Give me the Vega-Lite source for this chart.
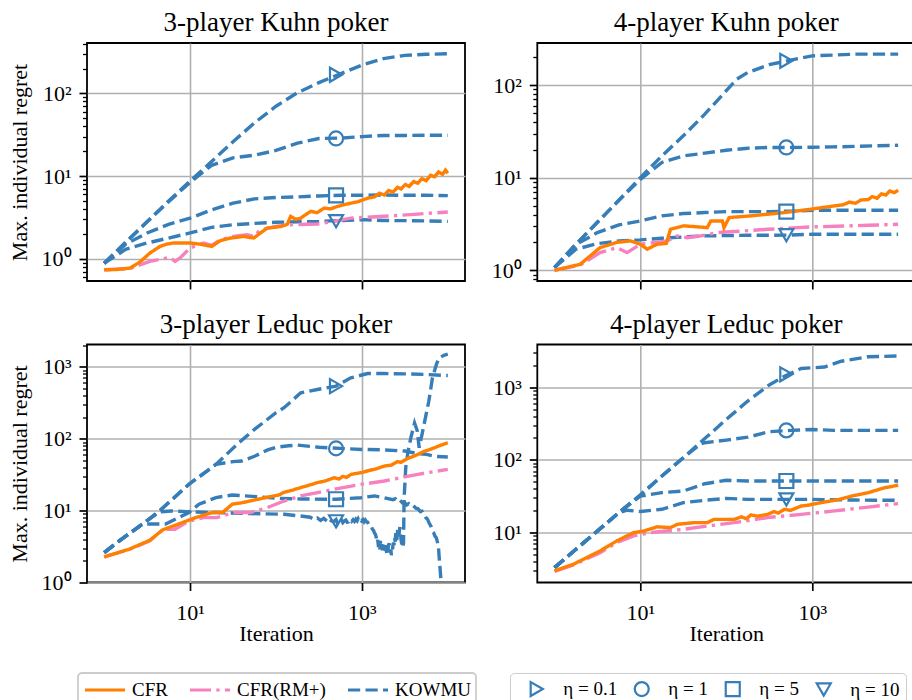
{
"$schema":"https://vega.github.io/schema/vega-lite/v6.json",
"background":"white",
"padding":{"left":7,"top":8,"right":0,"bottom":0},
"config":{
 "font":"Liberation Serif",
 "view":{"stroke":"black","strokeWidth":1.8},
 "axis":{"domain":false,"labelFont":"Liberation Serif","titleFont":"Liberation Serif","labelFontSize":22,"titleFontSize":22,"titleFontWeight":"normal","labelColor":"black","titleColor":"black","tickColor":"black","gridColor":"#b0b0b0","gridWidth":1.6,"labelOverlap":false,"labelBound":false,"labelFlush":false},
 "title":{"font":"Liberation Serif","fontSize":27,"fontWeight":"normal","color":"black","offset":6,"frame":"group"}
},
"datasets":{
"k3":[
{"alg":"KOWMU","eta":"η = 0.1","x":1,"y":0.88},{"alg":"KOWMU","eta":"η = 0.1","x":1.78,"y":1.58},{"alg":"KOWMU","eta":"η = 0.1","x":3.16,"y":2.8},{"alg":"KOWMU","eta":"η = 0.1","x":5.62,"y":5},{"alg":"KOWMU","eta":"η = 0.1","x":10,"y":8.7},{"alg":"KOWMU","eta":"η = 0.1","x":17.8,"y":15},{"alg":"KOWMU","eta":"η = 0.1","x":31.6,"y":26},{"alg":"KOWMU","eta":"η = 0.1","x":56.2,"y":44},{"alg":"KOWMU","eta":"η = 0.1","x":100,"y":70},{"alg":"KOWMU","eta":"η = 0.1","x":178,"y":102},{"alg":"KOWMU","eta":"η = 0.1","x":316,"y":135},{"alg":"KOWMU","eta":"η = 0.1","x":562,"y":173},{"alg":"KOWMU","eta":"η = 0.1","x":1000,"y":220},{"alg":"KOWMU","eta":"η = 0.1","x":1780,"y":264},{"alg":"KOWMU","eta":"η = 0.1","x":3160,"y":288},{"alg":"KOWMU","eta":"η = 0.1","x":5620,"y":297},{"alg":"KOWMU","eta":"η = 0.1","x":10000,"y":302},
{"alg":"KOWMU","eta":"η = 1","x":1,"y":0.88},{"alg":"KOWMU","eta":"η = 1","x":1.78,"y":1.58},{"alg":"KOWMU","eta":"η = 1","x":3.16,"y":2.8},{"alg":"KOWMU","eta":"η = 1","x":5.62,"y":4.9},{"alg":"KOWMU","eta":"η = 1","x":10,"y":8.4},{"alg":"KOWMU","eta":"η = 1","x":17.8,"y":13.5},{"alg":"KOWMU","eta":"η = 1","x":31.6,"y":16.6},{"alg":"KOWMU","eta":"η = 1","x":56.2,"y":17.9},{"alg":"KOWMU","eta":"η = 1","x":100,"y":20.4},{"alg":"KOWMU","eta":"η = 1","x":178,"y":25},{"alg":"KOWMU","eta":"η = 1","x":316,"y":28.5},{"alg":"KOWMU","eta":"η = 1","x":562,"y":28.8},{"alg":"KOWMU","eta":"η = 1","x":1000,"y":30},{"alg":"KOWMU","eta":"η = 1","x":1780,"y":31},{"alg":"KOWMU","eta":"η = 1","x":3160,"y":31},{"alg":"KOWMU","eta":"η = 1","x":5620,"y":31.2},{"alg":"KOWMU","eta":"η = 1","x":10000,"y":31.2},
{"alg":"KOWMU","eta":"η = 5","x":1,"y":0.88},{"alg":"KOWMU","eta":"η = 5","x":1.78,"y":1.5},{"alg":"KOWMU","eta":"η = 5","x":3.16,"y":2.05},{"alg":"KOWMU","eta":"η = 5","x":5.62,"y":2.6},{"alg":"KOWMU","eta":"η = 5","x":10,"y":3.1},{"alg":"KOWMU","eta":"η = 5","x":17.8,"y":3.9},{"alg":"KOWMU","eta":"η = 5","x":31.6,"y":4.7},{"alg":"KOWMU","eta":"η = 5","x":56.2,"y":5.3},{"alg":"KOWMU","eta":"η = 5","x":100,"y":5.5},{"alg":"KOWMU","eta":"η = 5","x":178,"y":5.6},{"alg":"KOWMU","eta":"η = 5","x":316,"y":5.75},{"alg":"KOWMU","eta":"η = 5","x":562,"y":5.85},{"alg":"KOWMU","eta":"η = 5","x":1000,"y":5.85},{"alg":"KOWMU","eta":"η = 5","x":1780,"y":5.9},{"alg":"KOWMU","eta":"η = 5","x":3160,"y":5.85},{"alg":"KOWMU","eta":"η = 5","x":5620,"y":5.85},{"alg":"KOWMU","eta":"η = 5","x":10000,"y":5.8},
{"alg":"KOWMU","eta":"η = 10","x":1,"y":0.88},{"alg":"KOWMU","eta":"η = 10","x":1.78,"y":1.3},{"alg":"KOWMU","eta":"η = 10","x":3.16,"y":1.55},{"alg":"KOWMU","eta":"η = 10","x":5.62,"y":1.78},{"alg":"KOWMU","eta":"η = 10","x":10,"y":2.05},{"alg":"KOWMU","eta":"η = 10","x":17.8,"y":2.4},{"alg":"KOWMU","eta":"η = 10","x":31.6,"y":2.58},{"alg":"KOWMU","eta":"η = 10","x":56.2,"y":2.68},{"alg":"KOWMU","eta":"η = 10","x":100,"y":2.76},{"alg":"KOWMU","eta":"η = 10","x":178,"y":2.8},{"alg":"KOWMU","eta":"η = 10","x":316,"y":2.83},{"alg":"KOWMU","eta":"η = 10","x":562,"y":2.9},{"alg":"KOWMU","eta":"η = 10","x":1000,"y":2.97},{"alg":"KOWMU","eta":"η = 10","x":1780,"y":2.9},{"alg":"KOWMU","eta":"η = 10","x":3160,"y":2.89},{"alg":"KOWMU","eta":"η = 10","x":5620,"y":2.87},{"alg":"KOWMU","eta":"η = 10","x":10000,"y":2.83},
{"alg":"CFR(RM+)","x":1,"y":0.735},{"alg":"CFR(RM+)","x":1.99,"y":0.76},{"alg":"CFR(RM+)","x":3.4,"y":0.93},{"alg":"CFR(RM+)","x":5.84,"y":1.04},{"alg":"CFR(RM+)","x":6.68,"y":0.93},{"alg":"CFR(RM+)","x":7.64,"y":1.02},{"alg":"CFR(RM+)","x":10,"y":1.35},{"alg":"CFR(RM+)","x":14.3,"y":1.55},{"alg":"CFR(RM+)","x":17.9,"y":1.45},{"alg":"CFR(RM+)","x":22.4,"y":1.7},{"alg":"CFR(RM+)","x":32.1,"y":1.86},{"alg":"CFR(RM+)","x":46,"y":1.95},{"alg":"CFR(RM+)","x":55,"y":1.86},{"alg":"CFR(RM+)","x":66,"y":2.24},{"alg":"CFR(RM+)","x":103,"y":2.47},{"alg":"CFR(RM+)","x":148,"y":2.58},{"alg":"CFR(RM+)","x":303,"y":2.63},{"alg":"CFR(RM+)","x":475,"y":2.83},{"alg":"CFR(RM+)","x":743,"y":3.1},{"alg":"CFR(RM+)","x":1825,"y":3.26},{"alg":"CFR(RM+)","x":4480,"y":3.47},{"alg":"CFR(RM+)","x":10000,"y":3.68},
{"alg":"CFR","x":1,"y":0.735},{"alg":"CFR","x":1.39,"y":0.74},{"alg":"CFR","x":1.99,"y":0.77},{"alg":"CFR","x":2.6,"y":0.91},{"alg":"CFR","x":3.4,"y":1.17},{"alg":"CFR","x":4.46,"y":1.41},{"alg":"CFR","x":5.33,"y":1.5},{"alg":"CFR","x":6.4,"y":1.55},{"alg":"CFR","x":10,"y":1.55},{"alg":"CFR","x":13.1,"y":1.5},{"alg":"CFR","x":17.9,"y":1.41},{"alg":"CFR","x":22.4,"y":1.65},{"alg":"CFR","x":29.4,"y":1.78},{"alg":"CFR","x":42,"y":1.86},{"alg":"CFR","x":55,"y":1.78},{"alg":"CFR","x":66,"y":2.05},{"alg":"CFR","x":79,"y":2.35},{"alg":"CFR","x":113,"y":2.45},{"alg":"CFR","x":135,"y":2.6},{"alg":"CFR","x":148,"y":3.26},{"alg":"CFR","x":170,"y":3.0},{"alg":"CFR","x":194,"y":3.1},{"alg":"CFR","x":220,"y":3.4},{"alg":"CFR","x":254,"y":3.75},{"alg":"CFR","x":300,"y":3.6},{"alg":"CFR","x":363,"y":4.1},{"alg":"CFR","x":430,"y":4.0},{"alg":"CFR","x":520,"y":4.3},{"alg":"CFR","x":620,"y":4.5},{"alg":"CFR","x":743,"y":4.7},{"alg":"CFR","x":900,"y":4.9},{"alg":"CFR","x":1165,"y":5.4},{"alg":"CFR","x":1400,"y":5.6},{"alg":"CFR","x":1600,"y":6.2},{"alg":"CFR","x":1825,"y":5.9},{"alg":"CFR","x":2050,"y":6.7},{"alg":"CFR","x":2300,"y":6.4},{"alg":"CFR","x":2600,"y":7.3},{"alg":"CFR","x":2860,"y":7.0},{"alg":"CFR","x":3200,"y":7.9},{"alg":"CFR","x":3550,"y":7.5},{"alg":"CFR","x":4000,"y":8.6},{"alg":"CFR","x":4480,"y":8.2},{"alg":"CFR","x":5000,"y":9.3},{"alg":"CFR","x":5600,"y":8.8},{"alg":"CFR","x":6300,"y":10.2},{"alg":"CFR","x":7020,"y":9.8},{"alg":"CFR","x":7800,"y":11.2},{"alg":"CFR","x":8700,"y":10.5},{"alg":"CFR","x":9400,"y":11.8},{"alg":"CFR","x":10000,"y":10.8}
],
"k3m":[{"eta":"η = 0.1","x":500,"y":168},{"eta":"η = 1","x":500,"y":28.5},{"eta":"η = 5","x":500,"y":5.85},{"eta":"η = 10","x":500,"y":2.85}],
"k4":[
{"alg":"KOWMU","eta":"η = 0.1","x":1,"y":1.07},{"alg":"KOWMU","eta":"η = 0.1","x":1.78,"y":1.91},{"alg":"KOWMU","eta":"η = 0.1","x":3.16,"y":3.3},{"alg":"KOWMU","eta":"η = 0.1","x":5.62,"y":5.7},{"alg":"KOWMU","eta":"η = 0.1","x":10,"y":10},{"alg":"KOWMU","eta":"η = 0.1","x":17.8,"y":17.2},{"alg":"KOWMU","eta":"η = 0.1","x":31.6,"y":28.3},{"alg":"KOWMU","eta":"η = 0.1","x":56.2,"y":48.5},{"alg":"KOWMU","eta":"η = 0.1","x":100,"y":87},{"alg":"KOWMU","eta":"η = 0.1","x":133,"y":116},{"alg":"KOWMU","eta":"η = 0.1","x":178,"y":137},{"alg":"KOWMU","eta":"η = 0.1","x":316,"y":166},{"alg":"KOWMU","eta":"η = 0.1","x":562,"y":186},{"alg":"KOWMU","eta":"η = 0.1","x":1000,"y":207},{"alg":"KOWMU","eta":"η = 0.1","x":1780,"y":211},{"alg":"KOWMU","eta":"η = 0.1","x":3160,"y":216},{"alg":"KOWMU","eta":"η = 0.1","x":5620,"y":216},{"alg":"KOWMU","eta":"η = 0.1","x":10000,"y":216},
{"alg":"KOWMU","eta":"η = 1","x":1,"y":1.07},{"alg":"KOWMU","eta":"η = 1","x":1.78,"y":1.91},{"alg":"KOWMU","eta":"η = 1","x":3.16,"y":3.3},{"alg":"KOWMU","eta":"η = 1","x":5.62,"y":5.7},{"alg":"KOWMU","eta":"η = 1","x":10,"y":9.6},{"alg":"KOWMU","eta":"η = 1","x":17.8,"y":14.6},{"alg":"KOWMU","eta":"η = 1","x":31.6,"y":17.2},{"alg":"KOWMU","eta":"η = 1","x":56.2,"y":18.4},{"alg":"KOWMU","eta":"η = 1","x":100,"y":19.8},{"alg":"KOWMU","eta":"η = 1","x":178,"y":20.8},{"alg":"KOWMU","eta":"η = 1","x":316,"y":21.2},{"alg":"KOWMU","eta":"η = 1","x":562,"y":21.2},{"alg":"KOWMU","eta":"η = 1","x":1000,"y":21.3},{"alg":"KOWMU","eta":"η = 1","x":1780,"y":21.5},{"alg":"KOWMU","eta":"η = 1","x":3160,"y":21.8},{"alg":"KOWMU","eta":"η = 1","x":5620,"y":22.1},{"alg":"KOWMU","eta":"η = 1","x":10000,"y":22.4},
{"alg":"KOWMU","eta":"η = 5","x":1,"y":1.07},{"alg":"KOWMU","eta":"η = 5","x":1.78,"y":1.9},{"alg":"KOWMU","eta":"η = 5","x":3.16,"y":2.55},{"alg":"KOWMU","eta":"η = 5","x":5.62,"y":3.09},{"alg":"KOWMU","eta":"η = 5","x":10,"y":3.41},{"alg":"KOWMU","eta":"η = 5","x":17.8,"y":3.87},{"alg":"KOWMU","eta":"η = 5","x":31.6,"y":4.1},{"alg":"KOWMU","eta":"η = 5","x":56.2,"y":4.2},{"alg":"KOWMU","eta":"η = 5","x":100,"y":4.3},{"alg":"KOWMU","eta":"η = 5","x":178,"y":4.3},{"alg":"KOWMU","eta":"η = 5","x":316,"y":4.3},{"alg":"KOWMU","eta":"η = 5","x":562,"y":4.35},{"alg":"KOWMU","eta":"η = 5","x":1000,"y":4.45},{"alg":"KOWMU","eta":"η = 5","x":1780,"y":4.45},{"alg":"KOWMU","eta":"η = 5","x":3160,"y":4.45},{"alg":"KOWMU","eta":"η = 5","x":5620,"y":4.45},{"alg":"KOWMU","eta":"η = 5","x":10000,"y":4.45},
{"alg":"KOWMU","eta":"η = 10","x":1,"y":1.07},{"alg":"KOWMU","eta":"η = 10","x":1.78,"y":1.69},{"alg":"KOWMU","eta":"η = 10","x":3.16,"y":1.94},{"alg":"KOWMU","eta":"η = 10","x":5.62,"y":2.07},{"alg":"KOWMU","eta":"η = 10","x":10,"y":2.13},{"alg":"KOWMU","eta":"η = 10","x":17.8,"y":2.22},{"alg":"KOWMU","eta":"η = 10","x":31.6,"y":2.29},{"alg":"KOWMU","eta":"η = 10","x":56.2,"y":2.35},{"alg":"KOWMU","eta":"η = 10","x":100,"y":2.37},{"alg":"KOWMU","eta":"η = 10","x":178,"y":2.39},{"alg":"KOWMU","eta":"η = 10","x":316,"y":2.39},{"alg":"KOWMU","eta":"η = 10","x":562,"y":2.4},{"alg":"KOWMU","eta":"η = 10","x":1000,"y":2.45},{"alg":"KOWMU","eta":"η = 10","x":1780,"y":2.45},{"alg":"KOWMU","eta":"η = 10","x":3160,"y":2.45},{"alg":"KOWMU","eta":"η = 10","x":5620,"y":2.45},{"alg":"KOWMU","eta":"η = 10","x":10000,"y":2.45},
{"alg":"CFR(RM+)","x":1,"y":1.0},{"alg":"CFR(RM+)","x":1.99,"y":1.14},{"alg":"CFR(RM+)","x":3.4,"y":1.55},{"alg":"CFR(RM+)","x":5.33,"y":1.76},{"alg":"CFR(RM+)","x":7,"y":1.55},{"alg":"CFR(RM+)","x":10,"y":1.91},{"alg":"CFR(RM+)","x":14.3,"y":1.99},{"alg":"CFR(RM+)","x":20.5,"y":2.08},{"alg":"CFR(RM+)","x":26.9,"y":2.35},{"alg":"CFR(RM+)","x":35,"y":2.25},{"alg":"CFR(RM+)","x":50,"y":2.35},{"alg":"CFR(RM+)","x":79,"y":2.55},{"alg":"CFR(RM+)","x":124,"y":2.62},{"alg":"CFR(RM+)","x":303,"y":2.77},{"alg":"CFR(RM+)","x":973,"y":2.94},{"alg":"CFR(RM+)","x":4480,"y":3.06},{"alg":"CFR(RM+)","x":10000,"y":3.14},
{"alg":"CFR","x":1,"y":1.0},{"alg":"CFR","x":1.99,"y":1.16},{"alg":"CFR","x":3.4,"y":1.76},{"alg":"CFR","x":5.33,"y":2.0},{"alg":"CFR","x":7.64,"y":2.08},{"alg":"CFR","x":10,"y":1.91},{"alg":"CFR","x":12,"y":1.69},{"alg":"CFR","x":15.6,"y":1.91},{"alg":"CFR","x":20,"y":1.95},{"alg":"CFR","x":22.4,"y":2.77},{"alg":"CFR","x":32.1,"y":3.02},{"alg":"CFR","x":60,"y":2.89},{"alg":"CFR","x":66,"y":3.41},{"alg":"CFR","x":90,"y":3.41},{"alg":"CFR","x":94,"y":2.89},{"alg":"CFR","x":108,"y":3.71},{"alg":"CFR","x":194,"y":3.87},{"alg":"CFR","x":475,"y":4.2},{"alg":"CFR","x":973,"y":4.57},{"alg":"CFR","x":1400,"y":4.8},{"alg":"CFR","x":1825,"y":4.96},{"alg":"CFR","x":2300,"y":5.1},{"alg":"CFR","x":2700,"y":5.45},{"alg":"CFR","x":3200,"y":5.3},{"alg":"CFR","x":3700,"y":5.75},{"alg":"CFR","x":4480,"y":5.8},{"alg":"CFR","x":5000,"y":6.25},{"alg":"CFR","x":5700,"y":6.0},{"alg":"CFR","x":6400,"y":6.7},{"alg":"CFR","x":7200,"y":6.5},{"alg":"CFR","x":8000,"y":7.2},{"alg":"CFR","x":9000,"y":6.9},{"alg":"CFR","x":10000,"y":7.3}
],
"k4m":[{"eta":"η = 0.1","x":500,"y":183},{"eta":"η = 1","x":500,"y":21.2},{"eta":"η = 5","x":500,"y":4.3},{"eta":"η = 10","x":500,"y":2.39}],
"l3":[
{"alg":"KOWMU","eta":"η = 0.1","x":1,"y":2.6},{"alg":"KOWMU","eta":"η = 0.1","x":1.5,"y":3.8},{"alg":"KOWMU","eta":"η = 0.1","x":2.8,"y":6.5},{"alg":"KOWMU","eta":"η = 0.1","x":4.4,"y":9.9},{"alg":"KOWMU","eta":"η = 0.1","x":9.7,"y":23.3},{"alg":"KOWMU","eta":"η = 0.1","x":20,"y":44},{"alg":"KOWMU","eta":"η = 0.1","x":37,"y":88},{"alg":"KOWMU","eta":"η = 0.1","x":56.2,"y":135},{"alg":"KOWMU","eta":"η = 0.1","x":100,"y":230},{"alg":"KOWMU","eta":"η = 0.1","x":124,"y":270},{"alg":"KOWMU","eta":"η = 0.1","x":194,"y":435},{"alg":"KOWMU","eta":"η = 0.1","x":303,"y":484},{"alg":"KOWMU","eta":"η = 0.1","x":500,"y":540},{"alg":"KOWMU","eta":"η = 0.1","x":743,"y":703},{"alg":"KOWMU","eta":"η = 0.1","x":1165,"y":807},{"alg":"KOWMU","eta":"η = 0.1","x":1780,"y":807},{"alg":"KOWMU","eta":"η = 0.1","x":3160,"y":800},{"alg":"KOWMU","eta":"η = 0.1","x":5620,"y":783},{"alg":"KOWMU","eta":"η = 0.1","x":10000,"y":758},
{"alg":"KOWMU","eta":"η = 1","x":1,"y":2.6},{"alg":"KOWMU","eta":"η = 1","x":1.5,"y":3.8},{"alg":"KOWMU","eta":"η = 1","x":2.8,"y":6.5},{"alg":"KOWMU","eta":"η = 1","x":4.4,"y":9.9},{"alg":"KOWMU","eta":"η = 1","x":9.7,"y":23.3},{"alg":"KOWMU","eta":"η = 1","x":20,"y":44},{"alg":"KOWMU","eta":"η = 1","x":25,"y":46},{"alg":"KOWMU","eta":"η = 1","x":31.6,"y":48},{"alg":"KOWMU","eta":"η = 1","x":40,"y":49},{"alg":"KOWMU","eta":"η = 1","x":56.2,"y":57},{"alg":"KOWMU","eta":"η = 1","x":80,"y":70},{"alg":"KOWMU","eta":"η = 1","x":100,"y":76},{"alg":"KOWMU","eta":"η = 1","x":140,"y":80},{"alg":"KOWMU","eta":"η = 1","x":178,"y":81.6},{"alg":"KOWMU","eta":"η = 1","x":316,"y":76},{"alg":"KOWMU","eta":"η = 1","x":562,"y":73.4},{"alg":"KOWMU","eta":"η = 1","x":1000,"y":71},{"alg":"KOWMU","eta":"η = 1","x":1780,"y":70},{"alg":"KOWMU","eta":"η = 1","x":3160,"y":67.5},{"alg":"KOWMU","eta":"η = 1","x":4480,"y":62},{"alg":"KOWMU","eta":"η = 1","x":5620,"y":60.6},{"alg":"KOWMU","eta":"η = 1","x":7000,"y":57},{"alg":"KOWMU","eta":"η = 1","x":10000,"y":55.6},
{"alg":"KOWMU","eta":"η = 5","x":1,"y":2.6},{"alg":"KOWMU","eta":"η = 5","x":1.5,"y":3.8},{"alg":"KOWMU","eta":"η = 5","x":2.8,"y":6.5},{"alg":"KOWMU","eta":"η = 5","x":5.2,"y":6.5},{"alg":"KOWMU","eta":"η = 5","x":9.7,"y":9.4},{"alg":"KOWMU","eta":"η = 5","x":12.7,"y":12.3},{"alg":"KOWMU","eta":"η = 5","x":20,"y":15.2},{"alg":"KOWMU","eta":"η = 5","x":31,"y":16.5},{"alg":"KOWMU","eta":"η = 5","x":48.5,"y":15.9},{"alg":"KOWMU","eta":"η = 5","x":108,"y":14.8},{"alg":"KOWMU","eta":"η = 5","x":200,"y":14.5},{"alg":"KOWMU","eta":"η = 5","x":500,"y":14.4},{"alg":"KOWMU","eta":"η = 5","x":973,"y":15.1},{"alg":"KOWMU","eta":"η = 5","x":1400,"y":16},{"alg":"KOWMU","eta":"η = 5","x":1825,"y":15.1},{"alg":"KOWMU","eta":"η = 5","x":2300,"y":14.2},{"alg":"KOWMU","eta":"η = 5","x":2450,"y":14.6},{"alg":"KOWMU","eta":"η = 5","x":2600,"y":13.4},{"alg":"KOWMU","eta":"η = 5","x":2780,"y":13.9},{"alg":"KOWMU","eta":"η = 5","x":2970,"y":12.8},{"alg":"KOWMU","eta":"η = 5","x":3130,"y":13.1},{"alg":"KOWMU","eta":"η = 5","x":3300,"y":12.0},{"alg":"KOWMU","eta":"η = 5","x":3500,"y":12.5},{"alg":"KOWMU","eta":"η = 5","x":3700,"y":11.6},{"alg":"KOWMU","eta":"η = 5","x":3950,"y":11.8},{"alg":"KOWMU","eta":"η = 5","x":4250,"y":10.8},{"alg":"KOWMU","eta":"η = 5","x":4500,"y":10.6},{"alg":"KOWMU","eta":"η = 5","x":4800,"y":9.7},{"alg":"KOWMU","eta":"η = 5","x":5000,"y":9.8},{"alg":"KOWMU","eta":"η = 5","x":5200,"y":9.0},{"alg":"KOWMU","eta":"η = 5","x":5400,"y":8.6},{"alg":"KOWMU","eta":"η = 5","x":5540,"y":8},{"alg":"KOWMU","eta":"η = 5","x":5800,"y":7.6},{"alg":"KOWMU","eta":"η = 5","x":6100,"y":6.6},{"alg":"KOWMU","eta":"η = 5","x":6350,"y":6.1},{"alg":"KOWMU","eta":"η = 5","x":6620,"y":5.1},{"alg":"KOWMU","eta":"η = 5","x":6850,"y":4.9},{"alg":"KOWMU","eta":"η = 5","x":7100,"y":4.4},{"alg":"KOWMU","eta":"η = 5","x":7350,"y":4.2},{"alg":"KOWMU","eta":"η = 5","x":7590,"y":3.6},{"alg":"KOWMU","eta":"η = 5","x":7800,"y":3.0},{"alg":"KOWMU","eta":"η = 5","x":7940,"y":2.2},{"alg":"KOWMU","eta":"η = 5","x":8150,"y":1.5},{"alg":"KOWMU","eta":"η = 5","x":8330,"y":1.05},{"alg":"KOWMU","eta":"η = 5","x":8700,"y":0.6},{"alg":"KOWMU","eta":"η = 5","x":9200,"y":0.4},{"alg":"KOWMU","eta":"η = 5","x":10000,"y":0.3},
{"alg":"KOWMU","eta":"η = 10","x":1,"y":2.6},{"alg":"KOWMU","eta":"η = 10","x":1.5,"y":3.8},{"alg":"KOWMU","eta":"η = 10","x":2.8,"y":6.5},{"alg":"KOWMU","eta":"η = 10","x":4.4,"y":9.6},{"alg":"KOWMU","eta":"η = 10","x":6,"y":9.9},{"alg":"KOWMU","eta":"η = 10","x":10,"y":9.6},{"alg":"KOWMU","eta":"η = 10","x":20,"y":9.4},{"alg":"KOWMU","eta":"η = 10","x":50,"y":9.1},{"alg":"KOWMU","eta":"η = 10","x":124,"y":8.9},{"alg":"KOWMU","eta":"η = 10","x":194,"y":8.4},{"alg":"KOWMU","eta":"η = 10","x":250,"y":8.1},{"alg":"KOWMU","eta":"η = 10","x":280,"y":7.5},{"alg":"KOWMU","eta":"η = 10","x":303,"y":7.9},{"alg":"KOWMU","eta":"η = 10","x":330,"y":7.3},{"alg":"KOWMU","eta":"η = 10","x":360,"y":7.8},{"alg":"KOWMU","eta":"η = 10","x":400,"y":7.0},{"alg":"KOWMU","eta":"η = 10","x":420,"y":7.6},{"alg":"KOWMU","eta":"η = 10","x":440,"y":7.2},{"alg":"KOWMU","eta":"η = 10","x":475,"y":7.1},{"alg":"KOWMU","eta":"η = 10","x":500,"y":7.5},{"alg":"KOWMU","eta":"η = 10","x":520,"y":6.7},{"alg":"KOWMU","eta":"η = 10","x":540,"y":7.4},{"alg":"KOWMU","eta":"η = 10","x":560,"y":6.9},{"alg":"KOWMU","eta":"η = 10","x":580,"y":7.3},{"alg":"KOWMU","eta":"η = 10","x":600,"y":6.8},{"alg":"KOWMU","eta":"η = 10","x":625,"y":7.2},{"alg":"KOWMU","eta":"η = 10","x":650,"y":7.4},{"alg":"KOWMU","eta":"η = 10","x":675,"y":6.9},{"alg":"KOWMU","eta":"η = 10","x":700,"y":7.0},{"alg":"KOWMU","eta":"η = 10","x":730,"y":7.6},{"alg":"KOWMU","eta":"η = 10","x":760,"y":7.1},{"alg":"KOWMU","eta":"η = 10","x":790,"y":7.5},{"alg":"KOWMU","eta":"η = 10","x":820,"y":7.1},{"alg":"KOWMU","eta":"η = 10","x":850,"y":7.6},{"alg":"KOWMU","eta":"η = 10","x":880,"y":7.2},{"alg":"KOWMU","eta":"η = 10","x":905,"y":7.7},{"alg":"KOWMU","eta":"η = 10","x":930,"y":7.2},{"alg":"KOWMU","eta":"η = 10","x":960,"y":7.6},{"alg":"KOWMU","eta":"η = 10","x":990,"y":7.2},{"alg":"KOWMU","eta":"η = 10","x":1025,"y":7.5},{"alg":"KOWMU","eta":"η = 10","x":1060,"y":7.0},{"alg":"KOWMU","eta":"η = 10","x":1095,"y":7.4},{"alg":"KOWMU","eta":"η = 10","x":1130,"y":7.0},{"alg":"KOWMU","eta":"η = 10","x":1165,"y":6.9},{"alg":"KOWMU","eta":"η = 10","x":1200,"y":6.4},{"alg":"KOWMU","eta":"η = 10","x":1230,"y":6.3},{"alg":"KOWMU","eta":"η = 10","x":1260,"y":5.9},{"alg":"KOWMU","eta":"η = 10","x":1295,"y":5.9},{"alg":"KOWMU","eta":"η = 10","x":1330,"y":5.5},{"alg":"KOWMU","eta":"η = 10","x":1365,"y":5.3},{"alg":"KOWMU","eta":"η = 10","x":1400,"y":4.9},{"alg":"KOWMU","eta":"η = 10","x":1435,"y":4.7},{"alg":"KOWMU","eta":"η = 10","x":1470,"y":4.2},{"alg":"KOWMU","eta":"η = 10","x":1500,"y":3.6},{"alg":"KOWMU","eta":"η = 10","x":1530,"y":3.9},{"alg":"KOWMU","eta":"η = 10","x":1560,"y":3.1},{"alg":"KOWMU","eta":"η = 10","x":1590,"y":3.5},{"alg":"KOWMU","eta":"η = 10","x":1615,"y":2.9},{"alg":"KOWMU","eta":"η = 10","x":1640,"y":3.8},{"alg":"KOWMU","eta":"η = 10","x":1670,"y":3.0},{"alg":"KOWMU","eta":"η = 10","x":1700,"y":3.4},{"alg":"KOWMU","eta":"η = 10","x":1730,"y":2.8},{"alg":"KOWMU","eta":"η = 10","x":1760,"y":3.5},{"alg":"KOWMU","eta":"η = 10","x":1790,"y":2.9},{"alg":"KOWMU","eta":"η = 10","x":1820,"y":3.2},{"alg":"KOWMU","eta":"η = 10","x":1850,"y":2.7},{"alg":"KOWMU","eta":"η = 10","x":1880,"y":3.3},{"alg":"KOWMU","eta":"η = 10","x":1915,"y":2.8},{"alg":"KOWMU","eta":"η = 10","x":1950,"y":2.6},{"alg":"KOWMU","eta":"η = 10","x":1975,"y":3.1},{"alg":"KOWMU","eta":"η = 10","x":2000,"y":2.7},{"alg":"KOWMU","eta":"η = 10","x":2040,"y":3.3},{"alg":"KOWMU","eta":"η = 10","x":2080,"y":3.5},{"alg":"KOWMU","eta":"η = 10","x":2115,"y":2.9},{"alg":"KOWMU","eta":"η = 10","x":2150,"y":2.6},{"alg":"KOWMU","eta":"η = 10","x":2175,"y":2.9},{"alg":"KOWMU","eta":"η = 10","x":2200,"y":2.4},{"alg":"KOWMU","eta":"η = 10","x":2235,"y":2.7},{"alg":"KOWMU","eta":"η = 10","x":2270,"y":2.9},{"alg":"KOWMU","eta":"η = 10","x":2300,"y":3.3},{"alg":"KOWMU","eta":"η = 10","x":2330,"y":3.6},{"alg":"KOWMU","eta":"η = 10","x":2365,"y":3.3},{"alg":"KOWMU","eta":"η = 10","x":2400,"y":4.2},{"alg":"KOWMU","eta":"η = 10","x":2440,"y":3.7},{"alg":"KOWMU","eta":"η = 10","x":2480,"y":4.9},{"alg":"KOWMU","eta":"η = 10","x":2515,"y":4.3},{"alg":"KOWMU","eta":"η = 10","x":2550,"y":3.9},{"alg":"KOWMU","eta":"η = 10","x":2585,"y":4.8},{"alg":"KOWMU","eta":"η = 10","x":2620,"y":5.6},{"alg":"KOWMU","eta":"η = 10","x":2660,"y":4.9},{"alg":"KOWMU","eta":"η = 10","x":2700,"y":4.6},{"alg":"KOWMU","eta":"η = 10","x":2735,"y":5.3},{"alg":"KOWMU","eta":"η = 10","x":2770,"y":5.9},{"alg":"KOWMU","eta":"η = 10","x":2810,"y":4.8},{"alg":"KOWMU","eta":"η = 10","x":2850,"y":4.1},{"alg":"KOWMU","eta":"η = 10","x":2885,"y":3.6},{"alg":"KOWMU","eta":"η = 10","x":2920,"y":3.4},{"alg":"KOWMU","eta":"η = 10","x":2950,"y":3.9},{"alg":"KOWMU","eta":"η = 10","x":2970,"y":3.7},{"alg":"KOWMU","eta":"η = 10","x":3010,"y":3.3},{"alg":"KOWMU","eta":"η = 10","x":3050,"y":3.5},{"alg":"KOWMU","eta":"η = 10","x":3100,"y":15},{"alg":"KOWMU","eta":"η = 10","x":3240,"y":40},{"alg":"KOWMU","eta":"η = 10","x":3450,"y":67},{"alg":"KOWMU","eta":"η = 10","x":3710,"y":103},{"alg":"KOWMU","eta":"η = 10","x":4100,"y":166},{"alg":"KOWMU","eta":"η = 10","x":4400,"y":130},{"alg":"KOWMU","eta":"η = 10","x":4640,"y":75},{"alg":"KOWMU","eta":"η = 10","x":4800,"y":90},{"alg":"KOWMU","eta":"η = 10","x":5300,"y":160},{"alg":"KOWMU","eta":"η = 10","x":6000,"y":330},{"alg":"KOWMU","eta":"η = 10","x":6620,"y":700},{"alg":"KOWMU","eta":"η = 10","x":7400,"y":1100},{"alg":"KOWMU","eta":"η = 10","x":7940,"y":1330},{"alg":"KOWMU","eta":"η = 10","x":9000,"y":1450},{"alg":"KOWMU","eta":"η = 10","x":10000,"y":1500},
{"alg":"CFR(RM+)","x":1,"y":2.27},{"alg":"CFR(RM+)","x":1.99,"y":2.9},{"alg":"CFR(RM+)","x":3.4,"y":3.8},{"alg":"CFR(RM+)","x":4.88,"y":5.5},{"alg":"CFR(RM+)","x":6.66,"y":5.5},{"alg":"CFR(RM+)","x":8.36,"y":6.46},{"alg":"CFR(RM+)","x":10,"y":7.2},{"alg":"CFR(RM+)","x":14.3,"y":8},{"alg":"CFR(RM+)","x":20.5,"y":8},{"alg":"CFR(RM+)","x":32.1,"y":9.4},{"alg":"CFR(RM+)","x":50.3,"y":9.4},{"alg":"CFR(RM+)","x":78.9,"y":11},{"alg":"CFR(RM+)","x":124,"y":13.6},{"alg":"CFR(RM+)","x":194,"y":16},{"alg":"CFR(RM+)","x":303,"y":17.8},{"alg":"CFR(RM+)","x":475,"y":19.8},{"alg":"CFR(RM+)","x":973,"y":23.2},{"alg":"CFR(RM+)","x":1825,"y":25.8},{"alg":"CFR(RM+)","x":4480,"y":32},{"alg":"CFR(RM+)","x":10000,"y":37.5},
{"alg":"CFR","x":1,"y":2.27},{"alg":"CFR","x":1.95,"y":2.9},{"alg":"CFR","x":3.4,"y":3.87},{"alg":"CFR","x":4.8,"y":5.4},{"alg":"CFR","x":8.1,"y":6.8},{"alg":"CFR","x":11.6,"y":8.0},{"alg":"CFR","x":18.2,"y":9.4},{"alg":"CFR","x":23.8,"y":9.4},{"alg":"CFR","x":31,"y":12.3},{"alg":"CFR","x":40.5,"y":12.9},{"alg":"CFR","x":76,"y":15.2},{"alg":"CFR","x":108,"y":16.5},{"alg":"CFR","x":124,"y":18},{"alg":"CFR","x":160,"y":19.5},{"alg":"CFR","x":194,"y":20.9},{"alg":"CFR","x":240,"y":22.5},{"alg":"CFR","x":303,"y":24.5},{"alg":"CFR","x":380,"y":26},{"alg":"CFR","x":475,"y":28.7},{"alg":"CFR","x":540,"y":27.5},{"alg":"CFR","x":600,"y":30},{"alg":"CFR","x":660,"y":29},{"alg":"CFR","x":750,"y":32},{"alg":"CFR","x":973,"y":33.7},{"alg":"CFR","x":1200,"y":36},{"alg":"CFR","x":1500,"y":38.5},{"alg":"CFR","x":1825,"y":41.7},{"alg":"CFR","x":2200,"y":43},{"alg":"CFR","x":2600,"y":48},{"alg":"CFR","x":2860,"y":47},{"alg":"CFR","x":3400,"y":53},{"alg":"CFR","x":4000,"y":57},{"alg":"CFR","x":4480,"y":60.6},{"alg":"CFR","x":5200,"y":66},{"alg":"CFR","x":6000,"y":70},{"alg":"CFR","x":7010,"y":75},{"alg":"CFR","x":8000,"y":80},{"alg":"CFR","x":9000,"y":84},{"alg":"CFR","x":10000,"y":88}
],
"l3m":[{"eta":"η = 0.1","x":500,"y":540},{"eta":"η = 1","x":500,"y":73.4},{"eta":"η = 5","x":500,"y":14.4},{"eta":"η = 10","x":500,"y":7.1}],
"l4":[
{"alg":"KOWMU","eta":"η = 0.1","x":1,"y":3.3},{"alg":"KOWMU","eta":"η = 0.1","x":1.78,"y":5.9},{"alg":"KOWMU","eta":"η = 0.1","x":3.16,"y":10.5},{"alg":"KOWMU","eta":"η = 0.1","x":5.62,"y":18.8},{"alg":"KOWMU","eta":"η = 0.1","x":10,"y":32.9},{"alg":"KOWMU","eta":"η = 0.1","x":17.8,"y":60},{"alg":"KOWMU","eta":"η = 0.1","x":31.6,"y":107},{"alg":"KOWMU","eta":"η = 0.1","x":56.2,"y":196},{"alg":"KOWMU","eta":"η = 0.1","x":100,"y":360},{"alg":"KOWMU","eta":"η = 0.1","x":178,"y":644},{"alg":"KOWMU","eta":"η = 0.1","x":316,"y":1070},{"alg":"KOWMU","eta":"η = 0.1","x":475,"y":1416},{"alg":"KOWMU","eta":"η = 0.1","x":743,"y":1803},{"alg":"KOWMU","eta":"η = 0.1","x":1390,"y":1890},{"alg":"KOWMU","eta":"η = 0.1","x":2180,"y":2270},{"alg":"KOWMU","eta":"η = 0.1","x":4480,"y":2610},{"alg":"KOWMU","eta":"η = 0.1","x":10000,"y":2680},
{"alg":"KOWMU","eta":"η = 1","x":1,"y":3.3},{"alg":"KOWMU","eta":"η = 1","x":1.78,"y":5.9},{"alg":"KOWMU","eta":"η = 1","x":3.16,"y":10.5},{"alg":"KOWMU","eta":"η = 1","x":5.62,"y":18.8},{"alg":"KOWMU","eta":"η = 1","x":10,"y":32.9},{"alg":"KOWMU","eta":"η = 1","x":17.8,"y":60},{"alg":"KOWMU","eta":"η = 1","x":31.6,"y":107},{"alg":"KOWMU","eta":"η = 1","x":50,"y":165},{"alg":"KOWMU","eta":"η = 1","x":56.2,"y":172},{"alg":"KOWMU","eta":"η = 1","x":100,"y":187},{"alg":"KOWMU","eta":"η = 1","x":178,"y":205},{"alg":"KOWMU","eta":"η = 1","x":316,"y":244},{"alg":"KOWMU","eta":"η = 1","x":562,"y":254},{"alg":"KOWMU","eta":"η = 1","x":1000,"y":262},{"alg":"KOWMU","eta":"η = 1","x":1780,"y":254},{"alg":"KOWMU","eta":"η = 1","x":5620,"y":254},{"alg":"KOWMU","eta":"η = 1","x":10000,"y":254},
{"alg":"KOWMU","eta":"η = 5","x":1,"y":3.3},{"alg":"KOWMU","eta":"η = 5","x":1.78,"y":5.9},{"alg":"KOWMU","eta":"η = 5","x":3.16,"y":10.5},{"alg":"KOWMU","eta":"η = 5","x":5.62,"y":18.8},{"alg":"KOWMU","eta":"η = 5","x":10,"y":31.8},{"alg":"KOWMU","eta":"η = 5","x":17.8,"y":35.4},{"alg":"KOWMU","eta":"η = 5","x":31.6,"y":37.3},{"alg":"KOWMU","eta":"η = 5","x":56.2,"y":47},{"alg":"KOWMU","eta":"η = 5","x":100,"y":52.4},{"alg":"KOWMU","eta":"η = 5","x":178,"y":51.2},{"alg":"KOWMU","eta":"η = 5","x":316,"y":51.2},{"alg":"KOWMU","eta":"η = 5","x":1000,"y":51.2},{"alg":"KOWMU","eta":"η = 5","x":3160,"y":51.2},{"alg":"KOWMU","eta":"η = 5","x":10000,"y":51.2},
{"alg":"KOWMU","eta":"η = 10","x":1,"y":3.3},{"alg":"KOWMU","eta":"η = 10","x":1.78,"y":5.9},{"alg":"KOWMU","eta":"η = 10","x":3.16,"y":10.5},{"alg":"KOWMU","eta":"η = 10","x":5.62,"y":18.8},{"alg":"KOWMU","eta":"η = 10","x":7,"y":20.3},{"alg":"KOWMU","eta":"η = 10","x":10,"y":19.5},{"alg":"KOWMU","eta":"η = 10","x":17.8,"y":20.9},{"alg":"KOWMU","eta":"η = 10","x":31.6,"y":25.8},{"alg":"KOWMU","eta":"η = 10","x":56.2,"y":27.8},{"alg":"KOWMU","eta":"η = 10","x":100,"y":29.5},{"alg":"KOWMU","eta":"η = 10","x":178,"y":28.6},{"alg":"KOWMU","eta":"η = 10","x":1000,"y":28.6},{"alg":"KOWMU","eta":"η = 10","x":3160,"y":28},{"alg":"KOWMU","eta":"η = 10","x":10000,"y":27.8},
{"alg":"CFR(RM+)","x":1,"y":2.92},{"alg":"CFR(RM+)","x":1.66,"y":3.6},{"alg":"CFR(RM+)","x":3.4,"y":5.3},{"alg":"CFR(RM+)","x":5.33,"y":7.3},{"alg":"CFR(RM+)","x":8.36,"y":9.0},{"alg":"CFR(RM+)","x":13.1,"y":10},{"alg":"CFR(RM+)","x":32.1,"y":11.1},{"alg":"CFR(RM+)","x":60,"y":12.3},{"alg":"CFR(RM+)","x":124,"y":13.7},{"alg":"CFR(RM+)","x":303,"y":16.1},{"alg":"CFR(RM+)","x":743,"y":17.8},{"alg":"CFR(RM+)","x":1825,"y":19.9},{"alg":"CFR(RM+)","x":4480,"y":22.4},{"alg":"CFR(RM+)","x":10000,"y":25},
{"alg":"CFR","x":1,"y":2.98},{"alg":"CFR","x":1.66,"y":3.67},{"alg":"CFR","x":3.4,"y":5.6},{"alg":"CFR","x":5.33,"y":7.7},{"alg":"CFR","x":8.36,"y":10},{"alg":"CFR","x":10.9,"y":10.5},{"alg":"CFR","x":15.6,"y":12},{"alg":"CFR","x":22.4,"y":11.7},{"alg":"CFR","x":26.9,"y":13},{"alg":"CFR","x":42,"y":13.7},{"alg":"CFR","x":60,"y":13.7},{"alg":"CFR","x":72,"y":15.2},{"alg":"CFR","x":124,"y":15.2},{"alg":"CFR","x":150,"y":16.5},{"alg":"CFR","x":170,"y":15.5},{"alg":"CFR","x":194,"y":17.5},{"alg":"CFR","x":230,"y":16.8},{"alg":"CFR","x":303,"y":17.8},{"alg":"CFR","x":360,"y":19.5},{"alg":"CFR","x":400,"y":18.5},{"alg":"CFR","x":475,"y":20.9},{"alg":"CFR","x":560,"y":20.2},{"alg":"CFR","x":743,"y":23.2},{"alg":"CFR","x":900,"y":23.8},{"alg":"CFR","x":1200,"y":25.5},{"alg":"CFR","x":1825,"y":27.8},{"alg":"CFR","x":2300,"y":29.5},{"alg":"CFR","x":2860,"y":31.8},{"alg":"CFR","x":3600,"y":33.5},{"alg":"CFR","x":4480,"y":35.4},{"alg":"CFR","x":5500,"y":38},{"alg":"CFR","x":7010,"y":41.5},{"alg":"CFR","x":8500,"y":43},{"alg":"CFR","x":10000,"y":45}
],
"l4m":[{"eta":"η = 0.1","x":500,"y":1500},{"eta":"η = 1","x":500,"y":254},{"eta":"η = 5","x":500,"y":51.2},{"eta":"η = 10","x":500,"y":28.6}]
},
"columns":2,
"bounds":"flush",
"spacing":{"row":63.5,"column":72.3},
"concat":[
{"width":378,"height":238,"title":{"text":"3-player Kuhn poker"},
 "encoding":{
  "x":{"field":"x","type":"quantitative","scale":{"type":"log","domain":[0.631,15849],"nice":false},"axis":{"values":[10,1000],"labels":false,"title":null,"tickSize":8,"tickWidth":1.7,"grid":true}},
  "y":{"field":"y","type":"quantitative","scale":{"type":"log","domain":[0.538,407],"nice":false},"axis":{"title":"Max. individual regret","values":[0.6,0.7,0.8,0.9,1,2,3,4,5,6,7,8,9,10,20,30,40,50,60,70,80,90,100,200,300,400],"labelExpr":"datum.value == 1 ? '10⁰' : datum.value == 10 ? '10¹' : datum.value == 100 ? '10²' : datum.value == 1000 ? '10³' : ''","labelFontSize":{"condition":{"test":"datum.value == 1 || datum.value == 10 || datum.value == 100 || datum.value == 1000","value":22},"value":0},"tickSize":{"condition":{"test":"datum.value == 1 || datum.value == 10 || datum.value == 100 || datum.value == 1000","value":8},"value":4.5},"tickWidth":{"condition":{"test":"datum.value == 1 || datum.value == 10 || datum.value == 100 || datum.value == 1000","value":1.7},"value":1.3},"gridOpacity":{"condition":{"test":"datum.value == 1 || datum.value == 10 || datum.value == 100 || datum.value == 1000","value":1},"value":0},"grid":true,"labelPadding":8,"titlePadding":10}}
 },
 "layer":[
  {"data":{"name":"k3"},"mark":{"type":"line","strokeWidth":3.4,"clip":true},"encoding":{
   "color":{"field":"alg","type":"nominal","scale":{"domain":["CFR","CFR(RM+)","KOWMU"],"range":["#ff7f00","#f781bf","#377eb8"]},"legend":{"orient":"none","legendX":-9,"legendY":630,"direction":"horizontal","title":null,"fillColor":"white","strokeColor":"#cccccc","cornerRadius":4,"padding":5,"labelFont":"Liberation Serif","labelFontSize":19,"labelColor":"black","labelLimit":0,"symbolType":"M-1,0H3","symbolSize":400,"symbolStrokeWidth":3.2,"labelOffset":25,"columnPadding":15,"gridAlign":"each","encode":{"legend":{"update":{"strokeWidth":{"value":1.8}}}}}},
   "strokeDash":{"field":"alg","type":"nominal","scale":{"domain":["CFR","CFR(RM+)","KOWMU"],"range":[[1,0],[21,5.3,3.3,5.3],[12.2,5.3]]},"legend":{"orient":"none","legendX":-9,"legendY":630,"direction":"horizontal","title":null,"fillColor":"white","strokeColor":"#cccccc","cornerRadius":4,"padding":5,"labelFont":"Liberation Serif","labelFontSize":19,"labelColor":"black","labelLimit":0,"symbolType":"M-1,0H3","symbolSize":400,"symbolStrokeWidth":3.2,"labelOffset":25,"columnPadding":15,"gridAlign":"each","encode":{"legend":{"update":{"strokeWidth":{"value":1.8}}}}}},
   "detail":{"field":"eta","type":"nominal"}}},
  {"data":{"name":"k3m"},"mark":{"type":"point","filled":false,"color":"#377eb8","strokeWidth":2.2,"size":196,"opacity":1},"encoding":{
   "shape":{"field":"eta","type":"nominal","scale":{"domain":["η = 0.1","η = 1","η = 5","η = 10"],"range":["triangle-right","circle","square","triangle-down"]},"legend":{"orient":"none","legendX":423,"legendY":630,"direction":"horizontal","title":null,"fillColor":"white","strokeColor":"#cccccc","cornerRadius":4,"padding":6.5,"labelFont":"Liberation Serif","labelFontSize":19,"labelColor":"black","labelLimit":0,"symbolSize":196,"symbolStrokeWidth":2.2,"symbolStrokeColor":"#377eb8","symbolFillColor":"transparent","symbolOffset":10.75,"labelOffset":17,"columnPadding":4,"gridAlign":"each","encode":{"legend":{"update":{"strokeWidth":{"value":1.8}}}}}}}}
 ]},
{"width":378,"height":238,"title":{"text":"4-player Kuhn poker"},
 "encoding":{
  "x":{"field":"x","type":"quantitative","scale":{"type":"log","domain":[0.631,15849],"nice":false},"axis":{"values":[10,1000],"labels":false,"title":null,"tickSize":8,"tickWidth":1.7,"grid":true}},
  "y":{"field":"y","type":"quantitative","scale":{"type":"log","domain":[0.766,284.8],"nice":false},"axis":{"title":null,"values":[0.8,0.9,1,2,3,4,5,6,7,8,9,10,20,30,40,50,60,70,80,90,100,200],"labelExpr":"datum.value == 1 ? '10⁰' : datum.value == 10 ? '10¹' : datum.value == 100 ? '10²' : datum.value == 1000 ? '10³' : ''","labelFontSize":{"condition":{"test":"datum.value == 1 || datum.value == 10 || datum.value == 100 || datum.value == 1000","value":22},"value":0},"tickSize":{"condition":{"test":"datum.value == 1 || datum.value == 10 || datum.value == 100 || datum.value == 1000","value":8},"value":4.5},"tickWidth":{"condition":{"test":"datum.value == 1 || datum.value == 10 || datum.value == 100 || datum.value == 1000","value":1.7},"value":1.3},"gridOpacity":{"condition":{"test":"datum.value == 1 || datum.value == 10 || datum.value == 100 || datum.value == 1000","value":1},"value":0},"grid":true,"labelPadding":8}}
 },
 "layer":[
  {"data":{"name":"k4"},"mark":{"type":"line","strokeWidth":3.4,"clip":true},"encoding":{
   "color":{"field":"alg","type":"nominal","scale":{"domain":["CFR","CFR(RM+)","KOWMU"],"range":["#ff7f00","#f781bf","#377eb8"]},"legend":{"orient":"none","legendX":-9,"legendY":630,"direction":"horizontal","title":null,"fillColor":"white","strokeColor":"#cccccc","cornerRadius":4,"padding":5,"labelFont":"Liberation Serif","labelFontSize":19,"labelColor":"black","labelLimit":0,"symbolType":"M-1,0H3","symbolSize":400,"symbolStrokeWidth":3.2,"labelOffset":25,"columnPadding":15,"gridAlign":"each","encode":{"legend":{"update":{"strokeWidth":{"value":1.8}}}}}},
   "strokeDash":{"field":"alg","type":"nominal","scale":{"domain":["CFR","CFR(RM+)","KOWMU"],"range":[[1,0],[21,5.3,3.3,5.3],[12.2,5.3]]},"legend":{"orient":"none","legendX":-9,"legendY":630,"direction":"horizontal","title":null,"fillColor":"white","strokeColor":"#cccccc","cornerRadius":4,"padding":5,"labelFont":"Liberation Serif","labelFontSize":19,"labelColor":"black","labelLimit":0,"symbolType":"M-1,0H3","symbolSize":400,"symbolStrokeWidth":3.2,"labelOffset":25,"columnPadding":15,"gridAlign":"each","encode":{"legend":{"update":{"strokeWidth":{"value":1.8}}}}}},
   "detail":{"field":"eta","type":"nominal"}}},
  {"data":{"name":"k4m"},"mark":{"type":"point","filled":false,"color":"#377eb8","strokeWidth":2.2,"size":196,"opacity":1},"encoding":{
   "shape":{"field":"eta","type":"nominal","scale":{"domain":["η = 0.1","η = 1","η = 5","η = 10"],"range":["triangle-right","circle","square","triangle-down"]},"legend":{"orient":"none","legendX":423,"legendY":630,"direction":"horizontal","title":null,"fillColor":"white","strokeColor":"#cccccc","cornerRadius":4,"padding":6.5,"labelFont":"Liberation Serif","labelFontSize":19,"labelColor":"black","labelLimit":0,"symbolSize":196,"symbolStrokeWidth":2.2,"symbolStrokeColor":"#377eb8","symbolFillColor":"transparent","symbolOffset":10.75,"labelOffset":17,"columnPadding":4,"gridAlign":"each","encode":{"legend":{"update":{"strokeWidth":{"value":1.8}}}}}}}}
 ]},
{"width":378,"height":238,"title":{"text":"3-player Leduc poker"},
 "encoding":{
  "x":{"field":"x","type":"quantitative","scale":{"type":"log","domain":[0.631,15849],"nice":false},"axis":{"values":[10,1000],"labelExpr":"datum.value < 100 ? '10¹' : '10³'","title":"Iteration","tickSize":8,"tickWidth":1.7,"grid":true,"labelPadding":12,"titlePadding":0}},
  "y":{"field":"y","type":"quantitative","scale":{"type":"log","domain":[1,2047],"nice":false},"axis":{"title":"Max. individual regret","values":[1,2,3,4,5,6,7,8,9,10,20,30,40,50,60,70,80,90,100,200,300,400,500,600,700,800,900,1000,2000],"labelExpr":"datum.value == 1 ? '10⁰' : datum.value == 10 ? '10¹' : datum.value == 100 ? '10²' : datum.value == 1000 ? '10³' : ''","labelFontSize":{"condition":{"test":"datum.value == 1 || datum.value == 10 || datum.value == 100 || datum.value == 1000","value":22},"value":0},"tickSize":{"condition":{"test":"datum.value == 1 || datum.value == 10 || datum.value == 100 || datum.value == 1000","value":8},"value":4.5},"tickWidth":{"condition":{"test":"datum.value == 1 || datum.value == 10 || datum.value == 100 || datum.value == 1000","value":1.7},"value":1.3},"gridOpacity":{"condition":{"test":"datum.value == 1 || datum.value == 10 || datum.value == 100 || datum.value == 1000","value":1},"value":0},"grid":true,"labelPadding":8,"titlePadding":10}}
 },
 "layer":[
  {"data":{"name":"l3"},"mark":{"type":"line","strokeWidth":3.4,"clip":true},"encoding":{
   "color":{"field":"alg","type":"nominal","scale":{"domain":["CFR","CFR(RM+)","KOWMU"],"range":["#ff7f00","#f781bf","#377eb8"]},"legend":{"orient":"none","legendX":-9,"legendY":630,"direction":"horizontal","title":null,"fillColor":"white","strokeColor":"#cccccc","cornerRadius":4,"padding":5,"labelFont":"Liberation Serif","labelFontSize":19,"labelColor":"black","labelLimit":0,"symbolType":"M-1,0H3","symbolSize":400,"symbolStrokeWidth":3.2,"labelOffset":25,"columnPadding":15,"gridAlign":"each","encode":{"legend":{"update":{"strokeWidth":{"value":1.8}}}}}},
   "strokeDash":{"field":"alg","type":"nominal","scale":{"domain":["CFR","CFR(RM+)","KOWMU"],"range":[[1,0],[21,5.3,3.3,5.3],[12.2,5.3]]},"legend":{"orient":"none","legendX":-9,"legendY":630,"direction":"horizontal","title":null,"fillColor":"white","strokeColor":"#cccccc","cornerRadius":4,"padding":5,"labelFont":"Liberation Serif","labelFontSize":19,"labelColor":"black","labelLimit":0,"symbolType":"M-1,0H3","symbolSize":400,"symbolStrokeWidth":3.2,"labelOffset":25,"columnPadding":15,"gridAlign":"each","encode":{"legend":{"update":{"strokeWidth":{"value":1.8}}}}}},
   "detail":{"field":"eta","type":"nominal"}}},
  {"data":{"name":"l3m"},"mark":{"type":"point","filled":false,"color":"#377eb8","strokeWidth":2.2,"size":196,"opacity":1},"encoding":{
   "shape":{"field":"eta","type":"nominal","scale":{"domain":["η = 0.1","η = 1","η = 5","η = 10"],"range":["triangle-right","circle","square","triangle-down"]},"legend":{"orient":"none","legendX":423,"legendY":630,"direction":"horizontal","title":null,"fillColor":"white","strokeColor":"#cccccc","cornerRadius":4,"padding":6.5,"labelFont":"Liberation Serif","labelFontSize":19,"labelColor":"black","labelLimit":0,"symbolSize":196,"symbolStrokeWidth":2.2,"symbolStrokeColor":"#377eb8","symbolFillColor":"transparent","symbolOffset":10.75,"labelOffset":17,"columnPadding":4,"gridAlign":"each","encode":{"legend":{"update":{"strokeWidth":{"value":1.8}}}}}}}}
 ]},
{"width":378,"height":238,"title":{"text":"4-player Leduc poker"},
 "encoding":{
  "x":{"field":"x","type":"quantitative","scale":{"type":"log","domain":[0.631,15849],"nice":false},"axis":{"values":[10,1000],"labelExpr":"datum.value < 100 ? '10¹' : '10³'","title":"Iteration","tickSize":8,"tickWidth":1.7,"grid":true,"labelPadding":12,"titlePadding":0}},
  "y":{"field":"y","type":"quantitative","scale":{"type":"log","domain":[2.06,3855],"nice":false},"axis":{"title":null,"values":[3,4,5,6,7,8,9,10,20,30,40,50,60,70,80,90,100,200,300,400,500,600,700,800,900,1000,2000,3000],"labelExpr":"datum.value == 1 ? '10⁰' : datum.value == 10 ? '10¹' : datum.value == 100 ? '10²' : datum.value == 1000 ? '10³' : ''","labelFontSize":{"condition":{"test":"datum.value == 1 || datum.value == 10 || datum.value == 100 || datum.value == 1000","value":22},"value":0},"tickSize":{"condition":{"test":"datum.value == 1 || datum.value == 10 || datum.value == 100 || datum.value == 1000","value":8},"value":4.5},"tickWidth":{"condition":{"test":"datum.value == 1 || datum.value == 10 || datum.value == 100 || datum.value == 1000","value":1.7},"value":1.3},"gridOpacity":{"condition":{"test":"datum.value == 1 || datum.value == 10 || datum.value == 100 || datum.value == 1000","value":1},"value":0},"grid":true,"labelPadding":8}}
 },
 "layer":[
  {"data":{"name":"l4"},"mark":{"type":"line","strokeWidth":3.4,"clip":true},"encoding":{
   "color":{"field":"alg","type":"nominal","scale":{"domain":["CFR","CFR(RM+)","KOWMU"],"range":["#ff7f00","#f781bf","#377eb8"]},"legend":{"orient":"none","legendX":-9,"legendY":630,"direction":"horizontal","title":null,"fillColor":"white","strokeColor":"#cccccc","cornerRadius":4,"padding":5,"labelFont":"Liberation Serif","labelFontSize":19,"labelColor":"black","labelLimit":0,"symbolType":"M-1,0H3","symbolSize":400,"symbolStrokeWidth":3.2,"labelOffset":25,"columnPadding":15,"gridAlign":"each","encode":{"legend":{"update":{"strokeWidth":{"value":1.8}}}}}},
   "strokeDash":{"field":"alg","type":"nominal","scale":{"domain":["CFR","CFR(RM+)","KOWMU"],"range":[[1,0],[21,5.3,3.3,5.3],[12.2,5.3]]},"legend":{"orient":"none","legendX":-9,"legendY":630,"direction":"horizontal","title":null,"fillColor":"white","strokeColor":"#cccccc","cornerRadius":4,"padding":5,"labelFont":"Liberation Serif","labelFontSize":19,"labelColor":"black","labelLimit":0,"symbolType":"M-1,0H3","symbolSize":400,"symbolStrokeWidth":3.2,"labelOffset":25,"columnPadding":15,"gridAlign":"each","encode":{"legend":{"update":{"strokeWidth":{"value":1.8}}}}}},
   "detail":{"field":"eta","type":"nominal"}}},
  {"data":{"name":"l4m"},"mark":{"type":"point","filled":false,"color":"#377eb8","strokeWidth":2.2,"size":196,"opacity":1},"encoding":{
   "shape":{"field":"eta","type":"nominal","scale":{"domain":["η = 0.1","η = 1","η = 5","η = 10"],"range":["triangle-right","circle","square","triangle-down"]},"legend":{"orient":"none","legendX":423,"legendY":630,"direction":"horizontal","title":null,"fillColor":"white","strokeColor":"#cccccc","cornerRadius":4,"padding":6.5,"labelFont":"Liberation Serif","labelFontSize":19,"labelColor":"black","labelLimit":0,"symbolSize":196,"symbolStrokeWidth":2.2,"symbolStrokeColor":"#377eb8","symbolFillColor":"transparent","symbolOffset":10.75,"labelOffset":17,"columnPadding":4,"gridAlign":"each","encode":{"legend":{"update":{"strokeWidth":{"value":1.8}}}}}}}}
 ]}
]
}
